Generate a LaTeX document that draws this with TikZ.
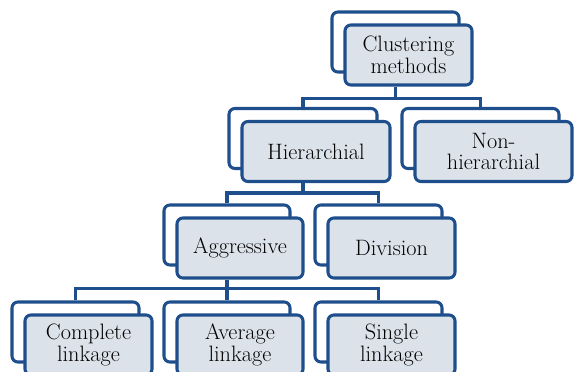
\documentclass[tikz,border=0pt]{standalone}
\usepackage{fontspec}
\usepackage{tikz}
\usetikzlibrary{calc}

\definecolor{navy}{HTML}{1F4E8C}
\definecolor{boxfill}{HTML}{DCE2EA}

\begin{document}
\begin{tikzpicture}[x=0.03cm,y=-0.03cm,
		backbox/.style={draw=navy,line width=2.6pt,rounded corners=5pt,fill=white,
			minimum width=#1*0.03cm,minimum height=1.8cm,inner sep=0pt},
		frontbox/.style={draw=navy,line width=2.6pt,rounded corners=5pt,fill=boxfill,
			minimum width=#1*0.03cm,minimum height=1.8cm,inner sep=0pt,align=center,
			font=\fontsize{19}{18.5}\selectfont,text=black},
		link/.style={draw=navy,line width=2.8pt}]
		\useasboundingbox (0,0) rectangle (578,372);
		\clip (0,0) rectangle (578,372);

		\node[backbox=127] (clustb) at (395.5,42) {};
		\node[frontbox=127] (clust) at (408.5,55) {Clustering\\methods};

		\node[backbox=148] (hierb) at (303,138.5) {};
		\node[frontbox=148] (hier) at (316,151.5) {Hierarchial};
		\node[backbox=157] (nonb) at (480.5,138.5) {};
		\node[frontbox=157] (non) at (493.5,151.5) {Non-\\hierarchial};

		\node[backbox=126] (aggb) at (227,235) {};
		\node[frontbox=126] (agg) at (240,248) {Aggressive};
		\node[backbox=127] (divb) at (378.5,235) {};
		\node[frontbox=127] (div) at (391.5,248) {Division};

		\node[backbox=127] (compb) at (75.5,332) {};
		\node[frontbox=127] (comp) at (88.5,345) {Complete\\linkage};
		\node[backbox=126] (avgb) at (227,332) {};
		\node[frontbox=126] (avg) at (240,345) {Average\\linkage};
		\node[backbox=127] (singb) at (378.5,332) {};
		\node[frontbox=127] (sing) at (391.5,345) {Single\\linkage};

		\draw[link] (clustb |- clust.south) -- ++(0,12) -| (hierb.north);
		\draw[link] (clustb |- clust.south) -- ++(0,12) -| (nonb.north);
		\draw[link] (hierb |- hier.south) -- ++(0,10) -| (aggb.north);
		\draw[link] (hierb |- hier.south) -- ++(0,10) -| (divb.north);
		\draw[link] (aggb |- agg.south) -- ++(0,9) -| (compb.north);
		\draw[link] (aggb |- agg.south) -- ++(0,9) -| (avgb.north);
		\draw[link] (aggb |- agg.south) -- ++(0,9) -| (singb.north);
	\end{tikzpicture}
\end{document}
